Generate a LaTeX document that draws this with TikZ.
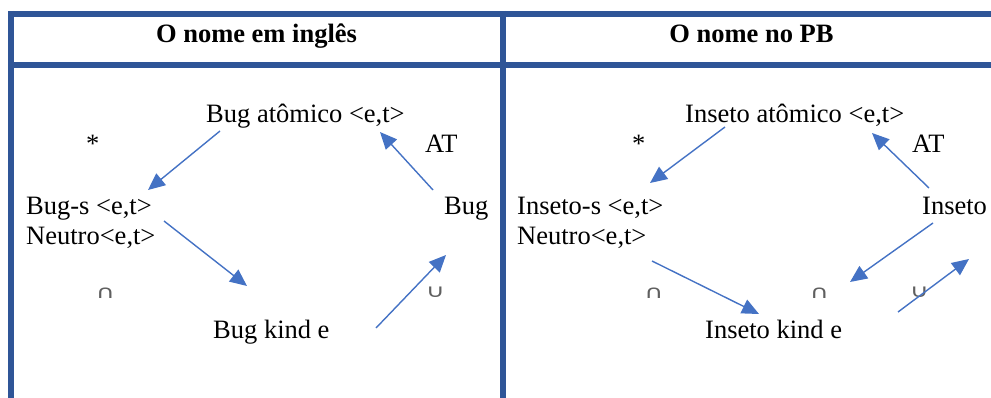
\documentclass[tikz,border=0pt]{standalone}
\usepackage{fontspec}
\setmainfont{Liberation Serif}
\newfontfamily\symfont{DejaVu Sans}
\usetikzlibrary{arrows.meta}
\definecolor{framecol}{RGB}{47,85,151}
\definecolor{arrowcol}{RGB}{68,114,196}
\definecolor{setcol}{RGB}{95,95,95}
\tikzset{
  frameline/.style={draw=framecol, line width=6pt},
  head/.style={font=\fontsize{26.5}{31}\selectfont\bfseries, inner sep=0pt, anchor=base},
  term/.style={font=\fontsize{26.5}{31}\selectfont, inner sep=0pt, anchor=base west},
  setop/.style={font=\fontsize{26}{26}\symfont, text=setcol, inner sep=0pt},
  link/.style={draw=arrowcol, line width=1.4pt, -{Triangle[length=17pt,width=15pt]}}
}
\newcommand{\flatsym}[1]{\scalebox{1}[0.7]{#1}}
\begin{document}
\begin{tikzpicture}[x=1pt, y=-1pt]
\useasboundingbox (0,0) rectangle (991,398);

% table rules
\draw[frameline] (8,14) -- (991,14);
\draw[frameline] (8,65) -- (991,65);
\draw[frameline] (11,11) -- (11,398);
\draw[frameline] (503,11) -- (503,398);

% column headings
\node[head] (hL) at (256.5,42.5) {O nome em inglês};
\node[head] (hR) at (751.5,42.5) {O nome no PB};

% ---------- English column ----------
\node[term] (atomL) at (206,122.5) {Bug atômico <e,t>};
\node[term] (starL) at (86,153) {*};
\node[term] (atL) at (425,153) {AT};
\node[term] (plL) at (26,214.5) {Bug-s <e,t>};
\node[term] (neuL) at (26,244.5) {Neutro<e,t>};
\node[term] (bugL) at (444,214.5) {Bug};
\node[term] (kindL) at (213,338) {Bug kind e};
\node[setop] (capL) at (105.5,293) {\flatsym{∩}};
\node[setop] (cupL) at (435.5,292) {\flatsym{∪}};

\coordinate (l1s) at (220,131);  \coordinate (l1e) at (148,190);
\coordinate (l2s) at (164,221);  \coordinate (l2e) at (247,286);
\coordinate (l3s) at (433,190);  \coordinate (l3e) at (380,132);
\coordinate (l4s) at (376,328);  \coordinate (l4e) at (446,255);
\draw[link] (l1s) -- (l1e);
\draw[link] (l2s) -- (l2e);
\draw[link] (l3s) -- (l3e);
\draw[link] (l4s) -- (l4e);

% ---------- Portuguese column ----------
\node[term] (atomR) at (685,122.5) {Inseto atômico <e,t>};
\node[term] (starR) at (632,153) {*};
\node[term] (atR) at (912,153) {AT};
\node[term] (plR) at (517,214.5) {Inseto-s <e,t>};
\node[term] (neuR) at (517,244.5) {Neutro<e,t>};
\node[term] (insR) at (922,214.5) {Inseto};
\node[term] (kindR) at (705,338) {Inseto kind e};
\node[setop] (capR1) at (654,293) {\flatsym{∩}};
\node[setop] (capR2) at (819.5,293) {\flatsym{∩}};
\node[setop] (cupR) at (919.5,292) {\flatsym{∪}};

\coordinate (r1s) at (725,127);  \coordinate (r1e) at (650,183);
\coordinate (r2s) at (652,261);  \coordinate (r2e) at (759,314);
\coordinate (r3s) at (929,188);  \coordinate (r3e) at (872,133);
\coordinate (r4s) at (933,223);  \coordinate (r4e) at (850,282);
\coordinate (r5s) at (898,312);  \coordinate (r5e) at (969,259);
\draw[link] (r1s) -- (r1e);
\draw[link] (r2s) -- (r2e);
\draw[link] (r3s) -- (r3e);
\draw[link] (r4s) -- (r4e);
\draw[link] (r5s) -- (r5e);
\end{tikzpicture}
\end{document}
